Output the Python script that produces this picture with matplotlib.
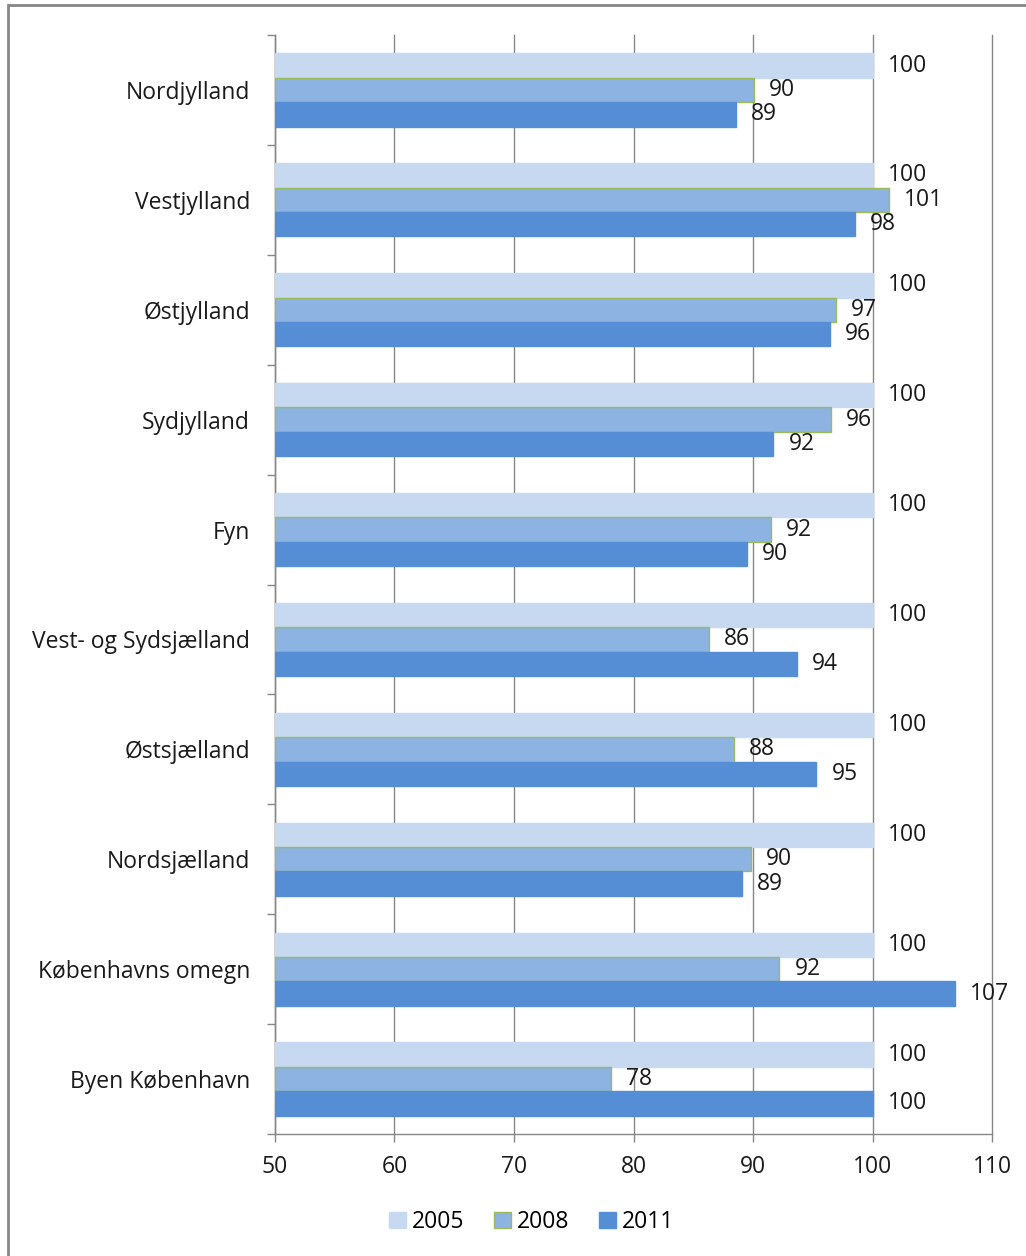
import matplotlib as mpl
mpl.use('Agg')
import numpy as np
import matplotlib.pyplot as plt
from matplotlib.patches import Rectangle

plt.rcParams['font.family'] = ['Open Sans', 'DejaVu Sans']

# Data
regions = ['Nordjylland', 'Vestjylland', 'Østjylland', 'Sydjylland', 'Fyn',
           'Vest- og Sydsjælland', 'Østsjælland', 'Nordsjælland',
           'Københavns omegn', 'Byen København']
v2005 = [100, 100, 100, 100, 100, 100, 100, 100, 100, 100]
v2008 = [90.1, 101.4, 96.9, 96.5, 91.5, 86.3, 88.4, 89.8, 92.2, 78.1]
v2011 = [88.6, 98.5, 96.4, 91.7, 89.5, 93.7, 95.3, 89.1, 106.9, 100]
years = ['2005', '2008', '2011']
xticks = [50, 60, 70, 80, 90, 100, 110]

colors = ['#C6D9F1', '#8DB3E2', '#558ED5']
edges = ['#C6D9F1', '#9BBB59', '#558ED5']
fs = 16.5

fig = plt.figure(figsize=(10.26, 12.56), dpi=100)
ax = fig.add_axes([0.268, 0.0971, 0.699, 0.875])

y = np.arange(len(regions))
h = 0.222
series = [v2005, v2008, v2011]
for i, vals in enumerate(series):
    pos = y + (i - 1) * h
    widths = np.array(vals) - 50
    ax.barh(pos, widths, left=50, height=h, color=colors[i],
            edgecolor=edges[i], linewidth=1.0, label=years[i], zorder=3)
    for p, v in zip(pos, vals):
        ax.annotate(f'{round(v):d}', xy=(v, p), xytext=(15, 0),
                    textcoords='offset pixels', va='center', ha='left',
                    fontsize=fs, color='#1a1a1a')

ax.set_xlim(50, 110)
ax.set_ylim(len(regions) - 0.5, -0.5)
ax.set_xticks(xticks)
ax.set_xticklabels([str(t) for t in xticks], fontsize=fs, color='#1a1a1a')
ax.set_yticks(y)
ax.set_yticklabels(regions, fontsize=fs, color='#1a1a1a')
ax.set_yticks(np.arange(-0.5, len(regions)), minor=True)
ax.tick_params(axis='y', which='major', length=0, pad=18)
ax.tick_params(axis='y', which='minor', length=6, color='#868686', width=1)
ax.tick_params(axis='x', length=6, color='#868686', width=1, pad=9)

ax.xaxis.grid(True, color='#868686', linewidth=1, zorder=0)
for gl in ax.get_xgridlines():
    gl.set_clip_on(False)
ax.set_axisbelow(True)
for s in ['top', 'right']:
    ax.spines[s].set_visible(False)
for s in ['left', 'bottom']:
    ax.spines[s].set_color('#868686')
    ax.spines[s].set_linewidth(1)

ax.legend(loc='center', bbox_to_anchor=(0.518, 0.027),
          bbox_transform=fig.transFigure, ncol=3, frameon=False,
          fontsize=fs, handlelength=0.75, handleheight=0.75,
          handletextpad=0.25, columnspacing=1.3)

# Outer chart frame
fig.patches.append(Rectangle((8 / 1026, -0.01), 1.1, 1 - 5 / 1256 + 0.01,
                             transform=fig.transFigure, fill=False,
                             edgecolor='#868686', linewidth=2))

fig.savefig('out.png', dpi=100)
